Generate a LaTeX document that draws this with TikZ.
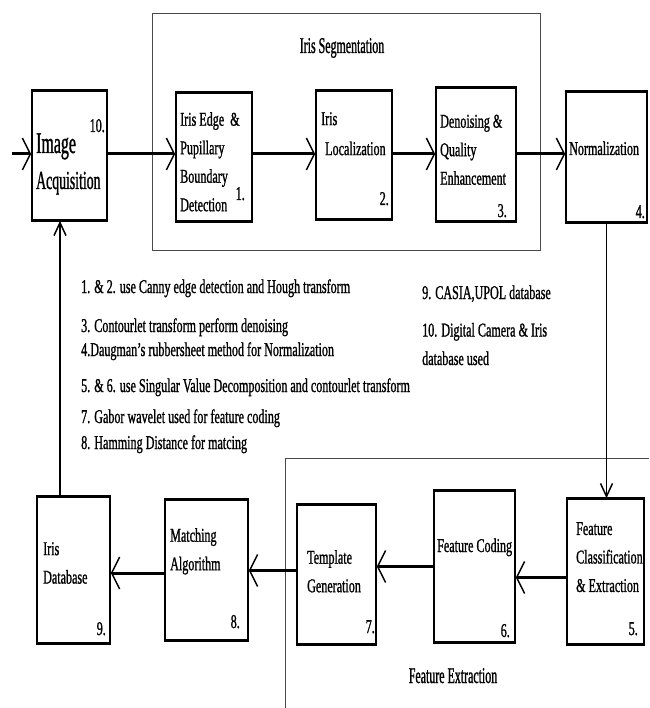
\documentclass[tikz,border=0pt]{standalone}
\usepackage{fontspec}
\setmainfont{Liberation Serif}[FakeStretch=0.62,FakeBold=1]
\newfontfamily\narrowfont{Liberation Serif}[FakeStretch=0.53,FakeBold=1]
\usetikzlibrary{arrows.meta,positioning}
\definecolor{cadre}{HTML}{4A4A4A}

\begin{document}
\begin{tikzpicture}[x=1pt,y=-1pt,
  blk/.style={draw,line width=1.6pt,inner sep=0pt,
    append after command={(\tikzlastnode.north west) edge[line width=3pt] (\tikzlastnode.north east)
      (\tikzlastnode.south west) edge[line width=3pt] (\tikzlastnode.south east)}},
  txt/.style={font=\fontsize{19.5}{28.5}\selectfont,inner sep=0pt,align=left},
  num/.style={txt,anchor=base east},
  note/.style={txt,anchor=base west},
  ttl/.style={font=\narrowfont\fontsize{22.5}{26}\selectfont,inner sep=0pt,anchor=base},
  grp/.style={draw=cadre,line width=0.9pt,inner sep=0pt},
  flow/.style={-{Straight Barb[length=8pt,width=32pt,line width=1.5pt]},line width=3pt},
  feed/.style={-{Straight Barb[length=13pt,width=12pt,line width=1.5pt]},line width=1.6pt}]
  \useasboundingbox (0,0) rectangle (649,708);
  % Groupes
  \node[grp,minimum width=388pt,minimum height=237pt] (seg) at (346,131.5) {};
  \node[ttl] (seg-t) at (342,53) {Iris Segmentation};
  \draw[cadre,line width=0.9pt] (649,458) -- (285,458) -- (285,708);
  \node[ttl] (fex-t) at (453,683) {Feature Extraction};
  % Ligne du haut
  \node[blk,minimum width=75pt,minimum height=129pt] (ia) at (69.5,155.5) {};
  \node[anchor=base west,inner sep=0pt,font=\narrowfont\fontsize{30}{30}\selectfont] (ia-t1) at (36,153) {Image};
  \node[anchor=base west,inner sep=0pt,font=\narrowfont\fontsize{26}{26}\selectfont] (ia-t2) at (36,189) {Acquisition};
  \node[num] (ia-n) at (105,132) {10.};
  \node[blk,minimum width=76pt,minimum height=128pt] (edge) at (214,157) {};
  \node[txt,anchor=north west] (edge-t) at (180,112) {Iris Edge\ \ \&\\Pupillary\\Boundary\\Detection};
  \node[num] (edge-n) at (245,200) {1.};
  \node[blk,minimum width=76pt,minimum height=128pt] (loc) at (354,155) {};
  \node[txt,anchor=north west] (loc-t) at (321,112) {Iris\\[1.5pt]\hspace*{4pt}Localization};
  \node[num] (loc-n) at (389,205) {2.};
  \node[blk,minimum width=80pt,minimum height=133pt] (den) at (476,154.5) {};
  \node[txt,anchor=north west] (den-t) at (440,114.5) {Denoising \&\\Quality\\Enhancement};
  \node[num] (den-n) at (507,217) {3.};
  \node[blk,minimum width=81pt,minimum height=130pt] (norm) at (606.5,157) {};
  \node[note] (norm-t) at (569,155) {Normalization};
  \node[num] (norm-n) at (645,218) {4.};
  % Ligne du bas
  \node[blk,minimum width=73pt,minimum height=146pt] (db) at (73.5,570) {};
  \node[txt,anchor=north west] (db-t) at (43,542) {Iris\\Database};
  \node[num] (db-n) at (106,635) {9.};
  \node[blk,minimum width=83pt,minimum height=140pt] (match) at (206.5,570) {};
  \node[txt,anchor=north west] (match-t) at (170,528) {Matching\\Algorithm};
  \node[num] (match-n) at (240,628) {8.};
  \node[blk,minimum width=79pt,minimum height=139pt] (templ) at (336.5,574.5) {};
  \node[txt,anchor=north west] (templ-t) at (307,550) {Template\\Generation};
  \node[num] (templ-n) at (375,633) {7.};
  \node[blk,minimum width=81pt,minimum height=151pt] (coding) at (474.5,566.5) {};
  \node[note] (coding-t) at (437,552) {Feature Coding};
  \node[num] (coding-n) at (510,637) {6.};
  \node[blk,minimum width=77pt,minimum height=145pt] (cls) at (605.5,571.5) {};
  \node[txt,anchor=north west] (cls-t) at (576,522) {Feature\\Classification\\\& Extraction};
  \node[num] (cls-n) at (638,635) {5.};
  % Notes
  \node[note] (n12) at (81,293) {1. \& 2. use Canny edge detection and Hough transform};
  \node[note] (n3) at (81,332) {3. Contourlet transform perform denoising};
  \node[note] (n4) at (81,356) {4.Daugman's rubbersheet method for Normalization};
  \node[note] (n56) at (81,392) {5. \& 6. use Singular Value Decomposition and contourlet transform};
  \node[note] (n7) at (81,423) {7. Gabor wavelet used for feature coding};
  \node[note] (n8) at (81,449) {8. Hamming Distance for matcing};
  \node[note] (n9) at (422,299) {9. CASIA,UPOL database};
  \node[note] (n10) at (422,365) {10. Digital Camera \& Iris\\database used};
  % Flux
  \coordinate (row) at (0,154);
  \coordinate (in) at (12,154);
  \draw[flow] (in) -- (in -| ia.west);
  \draw[flow] (ia.east |- row) -- (edge.west |- row);
  \draw[flow] (edge.east |- row) -- (loc.west |- row);
  \draw[flow] (loc.east |- row) -- (den.west |- row);
  \draw[flow] (den.east |- row) -- (norm.west |- row);
  \draw[feed] (norm.south) -- (norm.south |- cls.north);
  \draw[flow] ([yshift=-6pt]cls.west) -- ([yshift=-6pt]cls.west -| coding.east);
  \draw[flow] (coding.west) -- (coding.west -| templ.east);
  \draw[flow] ([yshift=4pt]templ.west) -- ([yshift=4pt]templ.west -| match.east);
  \draw[flow] ([yshift=-3pt]match.west) -- ([yshift=-3pt]match.west -| db.east);
  \draw[feed] ([xshift=-13.5pt]db.north) -- ([xshift=-13.5pt]db.north |- ia.south);
\end{tikzpicture}
\end{document}
